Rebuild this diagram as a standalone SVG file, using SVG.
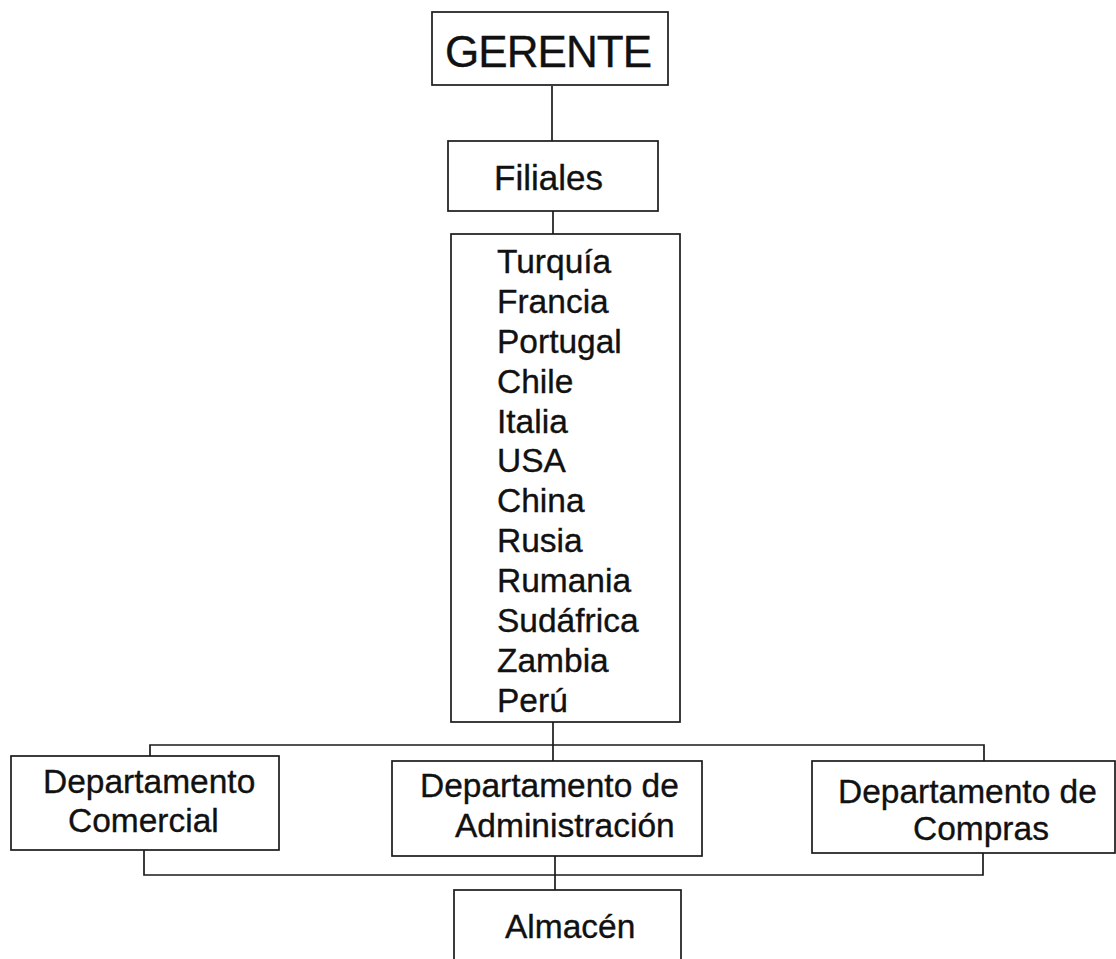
<svg xmlns="http://www.w3.org/2000/svg" width="1116" height="959" viewBox="0 0 1116 959">
<style>
.box{fill:#fff;stroke:#1a1a1a;stroke-width:1.7}
.ln{fill:none;stroke:#1a1a1a;stroke-width:1.7}
text{font-family:"Liberation Sans",Arial,sans-serif;fill:#111;stroke:#111;stroke-width:0.35;font-size:33.5px}
</style>
<rect width="1116" height="959" fill="#fff"/>
<g id="connectors">
<path class="ln" d="M552 86V141"/>
<path class="ln" d="M553 211V234"/>
<path class="ln" d="M553 722V761"/>
<path class="ln" d="M150 756V745H984V761"/>
<path class="ln" d="M144 850V875H983V853"/>
<path class="ln" d="M555 856V890"/>
</g>
<g id="gerente">
<rect class="box" x="432" y="12" width="236" height="73"/>
<text x="445" y="67" style="font-size:44px" textLength="207">GERENTE</text>
</g>
<g id="filiales">
<rect class="box" x="448" y="141" width="210" height="70"/>
<text x="494" y="190" style="font-size:35px">Filiales</text>
</g>
<g id="paises">
<rect class="box" x="451" y="234" width="229" height="488"/>
<text x="497" y="273">Turquía</text>
<text x="497" y="313">Francia</text>
<text x="497" y="353">Portugal</text>
<text x="497" y="393">Chile</text>
<text x="497" y="433">Italia</text>
<text x="497" y="472">USA</text>
<text x="497" y="512">China</text>
<text x="497" y="552">Rusia</text>
<text x="497" y="592">Rumania</text>
<text x="497" y="632">Sudáfrica</text>
<text x="497" y="672">Zambia</text>
<text x="497" y="712">Perú</text>
</g>
<g id="comercial">
<rect class="box" x="11" y="756" width="268" height="94"/>
<text x="43" y="793">Departamento</text>
<text x="68" y="832">Comercial</text>
</g>
<g id="administracion">
<rect class="box" x="392" y="761" width="310" height="95"/>
<text x="420" y="797">Departamento de</text>
<text x="455" y="837">Administración</text>
</g>
<g id="compras">
<rect class="box" x="812" y="761" width="303" height="92"/>
<text x="838" y="803">Departamento de</text>
<text x="913" y="840">Compras</text>
</g>
<g id="almacen">
<rect class="box" x="454" y="890" width="227" height="80"/>
<text x="505" y="938">Almacén</text>
</g>
</svg>
